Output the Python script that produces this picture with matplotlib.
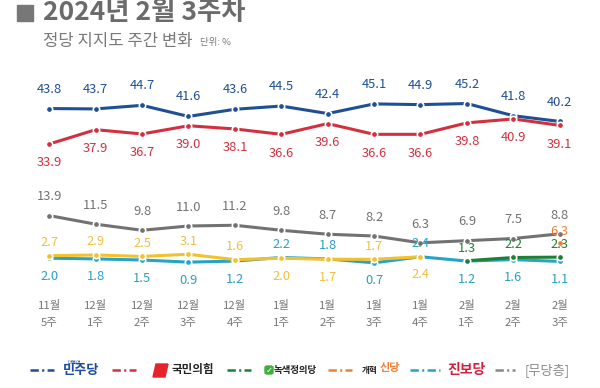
import matplotlib.pyplot as plt
import numpy as np
from matplotlib.lines import Line2D
from matplotlib.patches import Rectangle, Polygon, FancyBboxPatch

plt.rcParams['font.family'] = ['Noto Sans CJK KR', 'DejaVu Sans']
plt.rcParams['lines.scale_dashes'] = False

nan = np.nan
month_labels = ['11월', '12월', '12월', '12월', '12월', '1월', '1월', '1월', '1월', '2월', '2월', '2월']
week_labels = ['5주', '1주', '2주', '3주', '4주', '1주', '2주', '3주', '4주', '1주', '2주', '3주']

minju = [43.8, 43.7, 44.7, 41.6, 43.6, 44.5, 42.4, 45.1, 44.9, 45.2, 41.8, 40.2]
ppp = [33.9, 37.9, 36.7, 39.0, 38.1, 36.6, 39.6, 36.6, 36.6, 39.8, 40.9, 39.1]
mudang = [13.9, 11.5, 9.8, 11.0, 11.2, 9.8, 8.7, 8.2, 6.3, 6.9, 7.5, 8.8]
justice = [2.7, 2.9, 2.5, 3.1, 1.6, 2.0, 1.7, 1.7, 2.4, nan, nan, nan]
green_justice = [nan] * 9 + [1.3, 2.2, 2.3]
reform = [nan] * 11 + [6.3]
jinbo = [2.0, 1.8, 1.5, 0.9, 1.2, 2.2, 1.8, 0.7, 2.4, 1.2, 1.6, 1.1]

# label above (1) or below (-1) the point
justice_side = [1, 1, 1, 1, 1, -1, -1, 1, -1, 0, 0, 0]
jinbo_side = [-1, -1, -1, -1, -1, 1, 1, -1, 1, -1, -1, -1]

BLUE = '#1f4f95'
RED = '#d3303f'
GRAY = '#727272'
YELLOW = '#f2c22c'
CYAN = '#27a3c8'
GREEN = '#1e7f36'
ORANGE = '#ef7f35'

fig = plt.figure(figsize=(6, 3.88), dpi=100)
ax = fig.add_axes([0, 1 - 292 / 388, 1, (292 - 70) / 388])
ax.set_xlim(-1.0625, 11.869)
ax.set_ylim(-7.44, 54.57)
x = np.arange(len(minju))


def draw(vals, color, lw=2.2, z=2):
    ax.plot(x, vals, color=color, lw=lw, marker='o', ms=4.6, mfc=color,
            mec='white', mew=1.2, zorder=z, solid_capstyle='butt')


def labels(vals, color, offsets):
    for i, v in enumerate(vals):
        if np.isnan(v) or offsets[i] == 0:
            continue
        ax.annotate(f'{v:.1f}', (x[i], v), xytext=(0, offsets[i]),
                    textcoords='offset points', ha='center', va='center',
                    fontsize=9.3, color=color, zorder=10)


draw(mudang, GRAY, z=2)
draw(jinbo, CYAN, z=3)
draw(justice, YELLOW, z=4)
draw(green_justice, GREEN, z=4)
draw(reform, ORANGE, z=5)
draw(minju, BLUE, z=6)
draw(ppp, RED, z=7)

labels(minju, BLUE, [14] * 12)
labels(ppp, RED, [-13.5] * 12)
labels(mudang, GRAY, [13.5] * 12)
labels(justice, '#efc040', [9.5 if s > 0 else -13 for s in justice_side])
labels(jinbo, '#2aa0c6', [9.5 if s > 0 else -13 for s in jinbo_side])
labels(green_justice, GREEN, [9] * 12)
labels(reform, ORANGE, [8.5] * 12)

ax.set_xticks(x, [m + '\n' + w for m, w in zip(month_labels, week_labels)])
ax.tick_params(axis='x', length=0, pad=6, labelsize=8.2, labelcolor='#777777')
for t in ax.get_xticklabels():
    t.set_linespacing(1.85)
ax.set_yticks([])
for s in ax.spines.values():
    s.set_visible(False)

# title block
fig.patches.append(Rectangle((17 / 600, 1 - 21 / 388), 16 / 600, 16 / 388,
                             transform=fig.transFigure, color='#777777'))
fig.text(43 / 600, 1 - 13 / 388, '2024년 2월 3주차', fontsize=19, fontweight='heavy',
         color='#6b6b6b', va='center', ha='left')
fig.text(43 / 600, 1 - 41.5 / 388, '정당 지지도 주간 변화', fontsize=12,
         color='#7a7a7a', va='center', ha='left')
fig.text(200 / 600, 1 - 42 / 388, '단위: %', fontsize=6.8,
         color='#7a7a7a', va='center', ha='left')

# legend row
ly = 1 - 370 / 388


def leg_line(x0, x1, color):
    fig.add_artist(Line2D([x0 / 600, x1 / 600], [ly, ly], transform=fig.transFigure,
                          color=color, lw=1.8, dashes=(6.0, 2.4, 1.5, 2.4)))


leg_line(30, 54, BLUE)
fig.text(63 / 600, ly, '민주당', fontsize=9.5, fontweight='heavy', color='#1a4c9c',
         va='center', ha='left')
fig.text(68 / 600, 1 - 362 / 388, '더불어', fontsize=3.5, color='#1a4c9c',
         va='center', ha='left')

leg_line(112, 136, RED)
fig.patches.append(Polygon([(153 / 600, 1 - 377 / 388), (156 / 600, 1 - 364 / 388),
                            (168 / 600, 1 - 364 / 388), (165 / 600, 1 - 377 / 388)],
                           closed=True, transform=fig.transFigure, color='#e6232b'))
fig.text(172 / 600, ly, '국민의힘', fontsize=8.3, fontweight='bold', color='#222222',
         va='center', ha='left')

leg_line(227, 251, GREEN)
fig.patches.append(FancyBboxPatch((265 / 600, 1 - 374 / 388), 8 / 600, 8 / 388,
                                  boxstyle='round,pad=0,rounding_size=0.004',
                                  transform=fig.transFigure, color='#3fae3a'))
fig.text(269 / 600, 1 - 370.5 / 388, '✓', fontsize=6, color='white', fontweight='bold',
         va='center', ha='center', family='DejaVu Sans')
fig.text(274 / 600, ly, '녹색정의당', fontsize=6.8, fontweight='bold', color='#222222',
         va='center', ha='left')

leg_line(328, 352, ORANGE)
fig.text(362 / 600, 1 - 371 / 388, '개혁', fontsize=6.2, fontweight='bold', color='#222222',
         va='center', ha='left')
fig.text(380 / 600, 1 - 367 / 388, '신당', fontsize=8, fontweight='bold', color=ORANGE,
         va='center', ha='left')

leg_line(410, 440, CYAN)
fig.text(447 / 600, ly, '진보당', fontsize=10, fontweight='heavy', color='#d41f3c',
         va='center', ha='left')

leg_line(495, 515, '#888888')
fig.text(525 / 600, ly, '[무당층]', fontsize=9.5, color='#8a8a8a',
         va='center', ha='left')

fig.savefig('out.png', dpi=100)
